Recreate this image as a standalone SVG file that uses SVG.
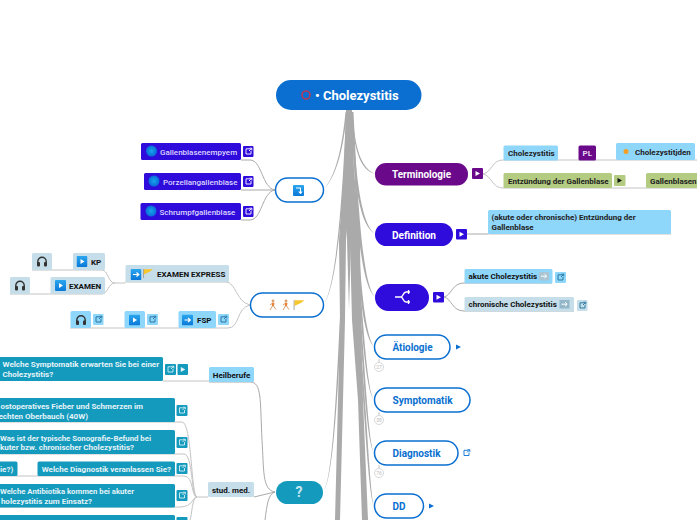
<svg xmlns="http://www.w3.org/2000/svg" width="697" height="520" viewBox="0 0 697 520">
<style>
text{font-family:Roboto,"Liberation Sans",sans-serif}
.c{fill:none;stroke:#c4c4c4;stroke-width:1}
.d{fill:none;stroke:#aaa;stroke-width:1}
.t{fill:#aaa;stroke:none}
.h{font-size:11.5px;font-weight:700}
.s{font-size:8px;font-weight:700;fill:#222}
.w{font-size:8px;font-weight:700;fill:#e4f3f8}
.e{text-anchor:end}
.b{font-size:8px;font-weight:500;fill:#dcd6ff}
.k{font-size:8px;font-weight:700;fill:#111}
.wn{fill:#fff;stroke:#0a6fd0;stroke-width:1.5}
.bl{fill:#8fd6fb}.gr{fill:#c5deea}.te{fill:#149abd}.in{fill:#2f0bdc}.pu{fill:#6a0a8a}.ol{fill:#b3cc82}
.cnt{fill:#fff;stroke:#d8d8d8;stroke-width:1}
.ct{font-size:5px;fill:#bbb;text-anchor:middle}
</style>
<defs>
<linearGradient id="g" x1="0" y1="0" x2="0" y2="1"><stop offset="0" stop-color="#2aa6ee"/><stop offset="1" stop-color="#0a78d8"/></linearGradient>
<radialGradient id="o"><stop offset="0" stop-color="#18a4ec"/><stop offset="1" stop-color="#0a6ad8"/></radialGradient>
<symbol id="lk" viewBox="0 0 11 11" overflow="visible"><path d="M7 2.800H3V8H8V5M6 5L8.600 2.400M6.600 2.200H8.800V4.400" fill="none" stroke-width="0.900" stroke="currentColor"/></symbol>
<symbol id="pl" viewBox="0 0 11 11"><rect width="11" height="11" rx="1" fill="url(#g)"/><path d="M4 3L8 5.500L4 8Z" fill="#fff"/></symbol>
<symbol id="ar" viewBox="0 0 11 11"><rect width="11" height="11" rx="1" fill="url(#g)"/><path d="M2.500 5.500H8M6 3.500L8.300 5.500L6 7.500" fill="none" stroke="#fff" stroke-width="1.200"/></symbol>
<symbol id="hp" viewBox="0 0 12 12"><path d="M1.800 8V6A4.200 4.200 0 0 1 10.200 6V8" fill="none" stroke="#333" stroke-width="1.400"/><rect x="1" y="6.500" width="3" height="4.500" rx="1" fill="#333"/><rect x="8" y="6.500" width="3" height="4.500" rx="1" fill="#333"/></symbol>
<symbol id="fl" viewBox="0 0 11 11"><path d="M1 1V10" stroke="#999" stroke-width="0.800"/><path d="M1.400 1.200H10.500L7.500 3.500L1.400 6.500Z" fill="#f7c52c"/></symbol>
<symbol id="rn" viewBox="0 0 9 12"><circle cx="5" cy="2" r="1.400" fill="#d9a070"/><path d="M3.800 3.800H6.500L6 7H4Z" fill="#e8833a"/><path d="M4.500 7L2 11M5.500 7L8 10.500M4 4.500L2 6" stroke="#d9a070" stroke-width="1" fill="none"/></symbol>
</defs>

<g id="connectors">
<path class="t" d="M346 110H352L353 170L346 240L345 320L343 400L340 520H335L338 400L340 320L339 240L344 170Z"/>
<path class="t" d="M346 110H352L354 170L360 240L361 320L363 400L368 520H362L358 400L352 320L350 240L348 170Z"/>
<path class="t" d="M347 150H351L351 240L349 310L347 240Z"/>
<path class="t" d="M351 112C354 150 360 170 375 174C361 167 355 150 352.500 112Z"/>
<path class="t" d="M351 112C354 190 360 225 375 234C363 225 356 190 352.500 112Z"/>
<path class="t" d="M352 112C355 210 360 285 375 297C363 285 358 210 353.500 112Z"/>
<path class="t" d="M356 220C358 280 362 335 374 347C365 335 360 280 357.500 220Z"/>
<path class="t" d="M356 250C360 300 364 388 374 400C366 388 362 300 357.500 250Z"/>
<path class="t" d="M358 300C362 350 366 441 374 453C368 441 364 350 359.500 300Z"/>
<path class="t" d="M360 360C364 400 368 494 374 506C370 494 366 400 361.500 360Z"/>
<path class="t" d="M345.500 112C342 150 335 178 323 190C336 178 343.500 150 347 112Z"/>
<path class="t" d="M346 115C342 210 335 292 323 305C336 292 343.500 210 347.500 115Z"/>
<path class="t" d="M344 240C338 340 335 480 323 492C336 480 340 340 345.500 240Z"/>

<path class="d" d="M275 190C262 188 262 160 250 160H241"/>
<path class="d" d="M275 190H241"/>
<path class="d" d="M275 190C262 192 262 220 250 220H241"/>
<path class="c" d="M250 305C236 302 236 282 226 282H125M250 305C236 308 240 328 228 328H70"/>
<path class="c" d="M125 283H115C108 283 108 270 102 270H32M115 283C108 283 108 294 102 294H10"/>
<path class="d" d="M275 492C262 490 264 470 262 440C260 400 262 382 250 382H209"/>
<path class="d" d="M275 492L254 497"/>
<path class="d" d="M275 492C268 494 267 505 265 520"/>
<path class="c" d="M163 381H209"/>
<path class="c" d="M208 497H197C191 497 192 422 182 422H0M197 497C191 497 193 454 184 454H0M197 497C191 497 194 476 184 476H0M197 497C192 497 193 507 180 507H0M197 497C192 497 192 515 190 520"/>
<path class="c" d="M483 174C492 172 492 160 503 160H697M483 174C492 176 492 188 503 188H697"/>
<path class="d" d="M467 234H488"/>
<path class="c" d="M488 234H671"/>
<path class="d" d="M444 297C452 295 452 283 464 283H552M444 297C452 299 452 311 464 311H574"/>
<path class="c" d="M379 359V363M379 412V416M379 465V469"/>
</g>

<g id="root"><rect x="276" y="80" width="145.500" height="30" rx="15" fill="#0a6fd0"/><circle cx="306" cy="95" r="4" fill="none" stroke="#b93a5c" stroke-width="1.600"/><text x="315" y="99.500" fill="#fff" font-size="13" font-weight="700">• Cholezystitis</text></g>

<g id="n-terminologie"><rect x="375" y="163" width="93" height="22.500" rx="11" class="pu"/><text x="392" y="178" class="h" fill="#fff" textLength="59" lengthAdjust="spacingAndGlyphs">Terminologie</text><rect x="472" y="168" width="11" height="11" rx="1" class="pu"/><path d="M475.500 171L480 173.500L475.500 176Z" fill="#fff"/></g>
<g id="n-chole"><rect x="503.500" y="145.500" width="54.500" height="15" rx="1.500" class="bl"/><text x="508" y="156" class="s">Cholezystitis</text></g>
<g id="n-pl"><rect x="578.500" y="145.500" width="17.500" height="15" rx="1.500" class="pu"/><text x="587.300" y="156" font-size="8" font-weight="700" fill="#e8d8f0" text-anchor="middle">PL</text></g>
<g id="n-cholj"><rect x="616" y="143" width="79" height="17" rx="1.500" class="bl"/><circle cx="626" cy="151.500" r="2.500" fill="#f5a024"/><text x="635" y="155" class="s">Cholezystitjden</text></g>
<g id="n-entz"><rect x="503.500" y="173" width="108.500" height="15" rx="1.500" class="ol"/><text x="508" y="184" class="s">Entzündung der Gallenblase</text><rect x="614" y="175" width="11.500" height="11" rx="1" class="ol"/><path d="M617.500 178L622 180.500L617.500 183Z" fill="#111"/></g>
<g id="n-gall"><rect x="646" y="173" width="52" height="15" rx="1.500" class="ol"/><text x="650" y="184" class="s">Gallenblasen</text></g>

<g id="n-definition"><rect x="375" y="223" width="78" height="23" rx="11.500" class="in"/><text x="392" y="238.500" class="h" fill="#fff" textLength="44" lengthAdjust="spacingAndGlyphs">Definition</text><rect x="456" y="229" width="11" height="10.500" rx="1" class="in"/><path d="M459.500 231.800L464 234.300L459.500 236.800Z" fill="#fff"/></g>
<g id="n-deftext"><rect x="488" y="210" width="183" height="24" rx="1.500" class="bl"/><text class="s" x="491.500" y="220">(akute oder chronische) Entzündung der</text><text class="s" x="491.500" y="230">Gallenblase</text></g>

<g id="n-split"><rect x="375" y="284" width="54" height="27" rx="13.500" class="in"/><path d="M395 297H401M401 297C403 297 403 292 406 292H410M401 297C403 297 403 302 406 302H410M408.500 290V294M408.500 300V304" fill="none" stroke="#fff" stroke-width="1.300"/><rect x="433" y="292" width="11" height="10.500" rx="1" class="in"/><path d="M436.500 294.800L441 297.300L436.500 299.800Z" fill="#fff"/></g>
<g id="n-akute"><rect x="464.500" y="269" width="88" height="14.500" rx="1.500" class="bl"/><text x="468.500" y="279" class="k">akute Cholezystitis</text><rect x="539" y="272" width="10" height="8.500" fill="#a9c4d2"/><path d="M541 276.200H546.500M544.500 274.200L546.700 276.200L544.500 278.200" fill="none" stroke="#fff"/><rect x="555" y="272" width="11" height="11" rx="1" class="bl"/><use href="#lk" x="555" y="272" width="11" height="11" color="#1f6f9c"/></g>
<g id="n-chron"><rect x="464.500" y="297" width="109.500" height="14.500" rx="1.500" class="gr"/><text x="468.500" y="307" class="k">chronische Cholezystitis</text><rect x="559.500" y="300" width="10" height="8.500" fill="#93b7c8"/><path d="M561.500 304.200H567M565 302.200L567.200 304.200L565 306.200" fill="none" stroke="#fff"/><rect x="577" y="300" width="10.500" height="11" rx="1" class="gr"/><use href="#lk" x="577" y="300" width="11" height="11" color="#1f6f9c"/></g>

<g id="n-aetiologie"><rect x="374.500" y="335" width="75.500" height="24" rx="12" class="wn"/><text x="392.500" y="351" class="h" fill="#0a6fd0" textLength="40" lengthAdjust="spacingAndGlyphs">Ätiologie</text><path d="M456 344.500L461 347L456 349.500Z" fill="#0a6fd0"/><circle cx="379" cy="367" r="4.500" class="cnt"/><text x="379" y="369" class="ct">27</text></g>
<g id="n-symptomatik"><rect x="374.500" y="388" width="95.500" height="24" rx="12" class="wn"/><text x="392.500" y="404" class="h" fill="#0a6fd0" textLength="60" lengthAdjust="spacingAndGlyphs">Symptomatik</text><circle cx="379" cy="420" r="4.500" class="cnt"/><text x="379" y="422" class="ct">38</text></g>
<g id="n-diagnostik"><rect x="374.500" y="441" width="83.500" height="24" rx="12" class="wn"/><text x="392.500" y="457" class="h" fill="#0a6fd0" textLength="48" lengthAdjust="spacingAndGlyphs">Diagnostik</text><use href="#lk" x="461" y="447.500" width="11" height="11" color="#0a6fd0"/><circle cx="379" cy="473" r="4.500" class="cnt"/><text x="379" y="475" class="ct">76</text></g>
<g id="n-dd"><rect x="374.500" y="494" width="49" height="24" rx="12" class="wn"/><text x="392.500" y="510" class="h" fill="#0a6fd0" textLength="13" lengthAdjust="spacingAndGlyphs">DD</text><path d="M429 503.500L434 506L429 508.500Z" fill="#0a6fd0"/></g>

<g id="n-turn"><rect x="275.500" y="178" width="48" height="24" rx="12" class="wn"/><rect x="293" y="185" width="11" height="11" rx="1" fill="url(#g)"/><path d="M296 188H300.500V193M298.800 191.500L300.500 193.500L302.200 191.500" fill="none" stroke="#fff" stroke-width="1.100"/></g>
<g id="n-empyem"><rect x="141" y="143" width="100" height="17" rx="1.500" class="in"/><circle cx="151.500" cy="151" r="5.500" fill="url(#o)"/><text x="160" y="155" class="b">Gallenblasenempyem</text><rect x="243" y="146" width="10.500" height="11" rx="1" class="in"/><use href="#lk" x="243" y="146" width="11" height="11" color="#fff"/></g>
<g id="n-porz"><rect x="144" y="173" width="97" height="17" rx="1.500" class="in"/><circle cx="154" cy="181" r="5.500" fill="url(#o)"/><text x="163" y="185" class="b">Porzellangallenblase</text><rect x="243" y="176" width="10.500" height="11" rx="1" class="in"/><use href="#lk" x="243" y="176" width="11" height="11" color="#fff"/></g>
<g id="n-schrumpf"><rect x="140.500" y="203" width="100.500" height="17" rx="1.500" class="in"/><circle cx="151" cy="211" r="5.500" fill="url(#o)"/><text x="159.500" y="215" class="b">Schrumpfgallenblase</text><rect x="243" y="206" width="10.500" height="11" rx="1" class="in"/><use href="#lk" x="243" y="206" width="11" height="11" color="#fff"/></g>

<g id="n-runners"><rect x="250.500" y="293" width="73" height="24" rx="12" class="wn"/><use href="#rn" x="268" y="299" width="9" height="12"/><use href="#rn" x="281" y="299" width="9" height="12"/><use href="#fl" x="293" y="299" width="12" height="12"/></g>
<g id="n-express"><rect x="125.500" y="265" width="103.500" height="17" rx="1.500" class="gr"/><use href="#ar" x="130.500" y="269" width="11" height="11"/><use href="#fl" x="142.500" y="268" width="11" height="11"/><text x="157" y="277" class="k">EXAMEN EXPRESS</text></g>
<g id="n-kp"><rect x="73" y="253" width="32" height="17" rx="1.500" class="gr"/><use href="#pl" x="76.500" y="256" width="11" height="11"/><text x="91" y="264.500" class="k">KP</text></g>
<g id="n-hp1"><rect x="32" y="253" width="20" height="17" rx="1.500" class="gr"/><use href="#hp" x="36" y="255.500" width="12" height="12"/></g>
<g id="n-examen"><rect x="50.500" y="277" width="54.500" height="17" rx="1.500" class="gr"/><use href="#pl" x="55" y="280" width="11" height="11"/><text x="69" y="289" class="k">EXAMEN</text></g>
<g id="n-hp2"><rect x="10" y="277" width="20" height="17" rx="1.500" class="gr"/><use href="#hp" x="14" y="279.500" width="12" height="12"/></g>
<g id="n-fsp"><rect x="178.500" y="311" width="37.500" height="17" rx="1.500" class="bl"/><use href="#ar" x="182" y="314.500" width="11" height="11"/><text x="197" y="323" class="k">FSP</text><rect x="218" y="314" width="11" height="11" rx="1" class="bl"/><use href="#lk" x="218" y="314" width="11" height="11" color="#1f6f9c"/></g>
<g id="n-play"><rect x="124.500" y="311" width="20.500" height="17" rx="1.500" class="bl"/><use href="#pl" x="129" y="314.500" width="11" height="11"/><rect x="147" y="314" width="11" height="11" rx="1" class="bl"/><use href="#lk" x="147" y="314" width="11" height="11" color="#1f6f9c"/></g>
<g id="n-hp3"><rect x="70.500" y="311" width="20.500" height="17" rx="1.500" class="bl"/><use href="#hp" x="75" y="314" width="12" height="12"/><rect x="93" y="314" width="10.500" height="11" rx="1" class="bl"/><use href="#lk" x="93" y="314" width="11" height="11" color="#1f6f9c"/></g>

<g id="n-question"><rect x="276" y="481" width="47" height="23" rx="11.500" class="te"/><text x="299" y="497" font-size="14" font-weight="700" fill="#c8e6ef" text-anchor="middle">?</text></g>
<g id="n-heil"><rect x="209" y="367" width="45" height="15" rx="1.500" class="bl"/><text x="231.500" y="377.500" class="k" text-anchor="middle">Heilberufe</text></g>
<g id="n-stud"><rect x="208" y="482" width="46" height="15" rx="1.500" class="gr"/><text x="231" y="492.500" class="k" text-anchor="middle">stud. med.</text></g>
<g id="n-q1"><rect x="-5" y="357" width="168" height="24" rx="1.500" class="te"/><text class="w" x="2.500" y="367">Welche Symptomatik erwarten Sie bei einer</text><text class="w" x="2.500" y="377">Cholezystitis?</text><rect x="165" y="364" width="11" height="11" rx="1" class="te"/><use href="#lk" x="165" y="364" width="11" height="11" color="#d5eef5"/><rect x="177.500" y="364" width="10.500" height="11" rx="1" class="te"/><path d="M180.800 367L185.300 369.500L180.800 372Z" fill="#e4f3f8"/></g>
<g id="n-q2"><rect x="-5" y="398" width="180" height="24" rx="1.500" class="te"/><text class="w e" x="143" y="409">ostoperatives Fieber und Schmerzen im</text><text class="w e" x="88" y="418.500">echten Oberbauch (40W)</text><rect x="176.500" y="405" width="11" height="11" rx="1" class="te"/><use href="#lk" x="176.500" y="405" width="11" height="11" color="#d5eef5"/></g>
<g id="n-q3"><rect x="-5" y="430" width="180" height="24" rx="1.500" class="te"/><text class="w" x="0" y="440.500" textLength="151" lengthAdjust="spacingAndGlyphs">Was ist der typische Sonografie-Befund bei</text><text class="w e" x="134" y="450">kuter bzw. chronischer Cholezystitis?</text><rect x="176.500" y="437" width="11" height="11" rx="1" class="te"/><use href="#lk" x="176.500" y="437" width="11" height="11" color="#d5eef5"/></g>
<g id="n-q4"><rect x="-5" y="461.500" width="22.500" height="14.500" rx="1.500" class="te"/><text class="w" x="0" y="472">ie?)</text></g>
<g id="n-q5"><rect x="37.500" y="461.500" width="137.500" height="14.500" rx="1.500" class="te"/><text class="w e" x="171" y="472">Welche Diagnostik veranlassen Sie?</text><rect x="176.500" y="463" width="11" height="11" rx="1" class="te"/><use href="#lk" x="176.500" y="463" width="11" height="11" color="#d5eef5"/></g>
<g id="n-q6"><rect x="-5" y="484" width="180" height="23.500" rx="1.500" class="te"/><text class="w" x="0" y="494" textLength="134" lengthAdjust="spacingAndGlyphs">Welche Antibiotika kommen bei akuter</text><text class="w e" x="92" y="503.500">holezystitis zum Einsatz?</text><rect x="176.500" y="490" width="11" height="11" rx="1" class="te"/><use href="#lk" x="176.500" y="490" width="11" height="11" color="#d5eef5"/></g>
<g id="n-q7"><rect x="-5" y="515" width="180" height="12" rx="1.500" class="te"/><rect x="176.500" y="517" width="11" height="11" rx="1" class="te"/></g>
</svg>
